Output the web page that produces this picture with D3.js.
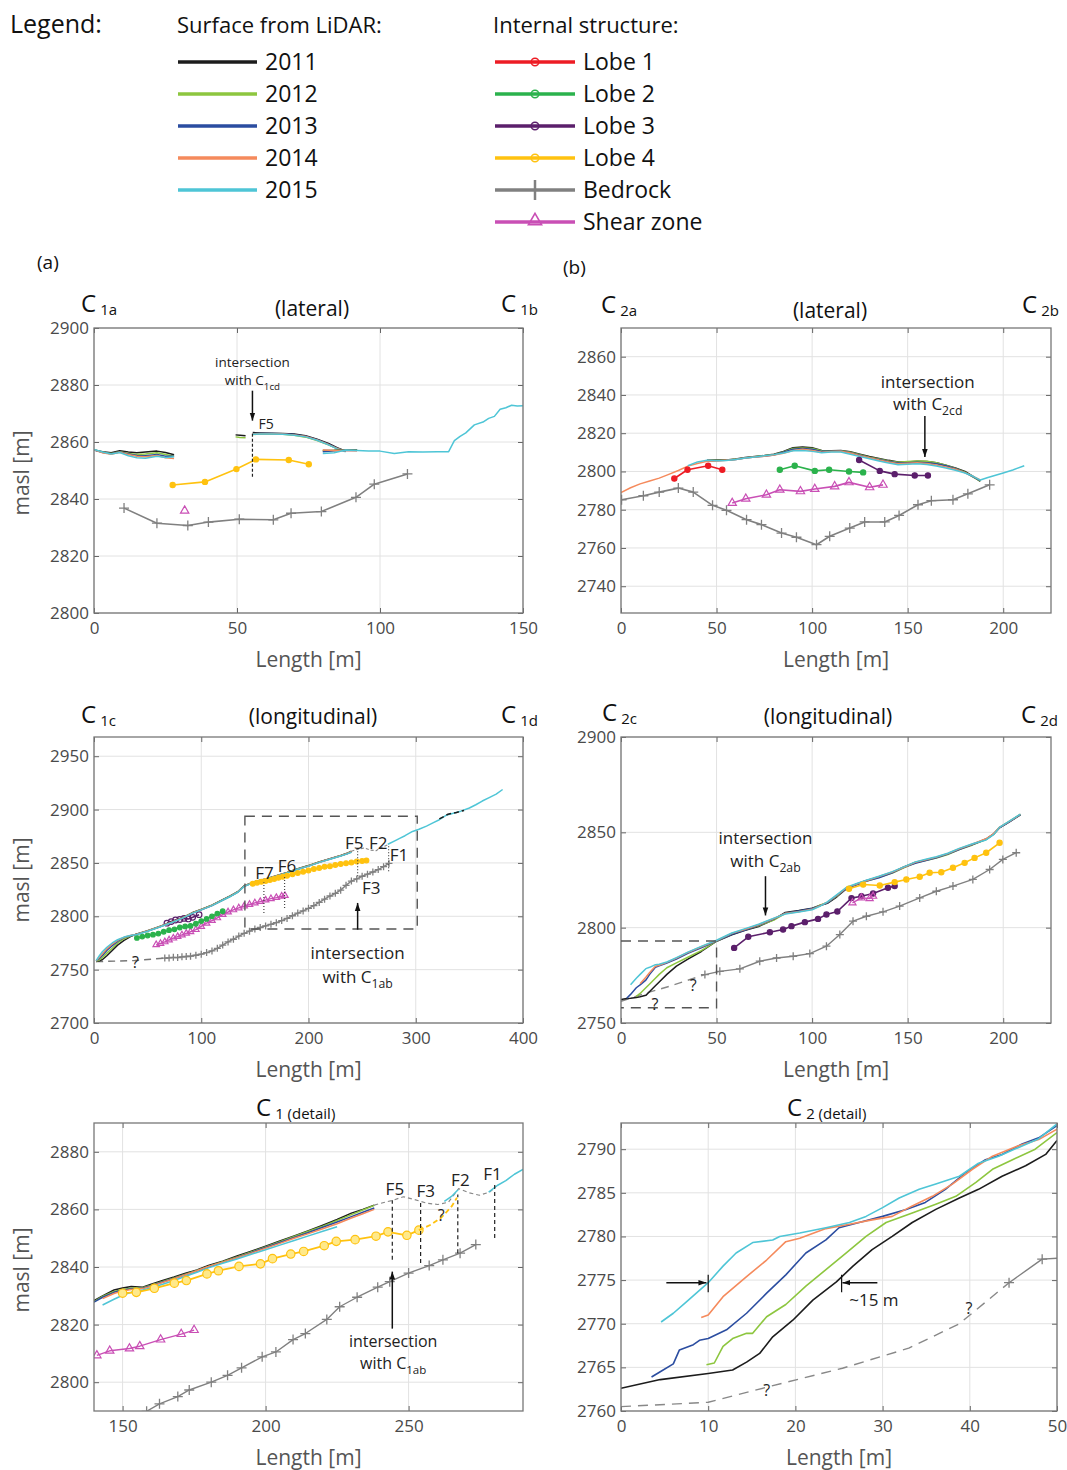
<!DOCTYPE html>
<html>
<head>
<meta charset="utf-8">
<script src="https://cdn.jsdelivr.net/npm/d3@7"></script>
<style>
body { margin: 0; background: #fff; }
text { font-family: 'Open Sans', sans-serif; }
</style>
</head>
<body>
<script>
var FONT = "'Open Sans', sans-serif";
var years = ['2011', '2012', '2013', '2014', '2015'];
var yearColors = ['#1c1c1c', '#8dc63f', '#2b4da0', '#f58a5c', '#4ec5d6'];
var structNames = ['Lobe 1', 'Lobe 2', 'Lobe 3', 'Lobe 4', 'Bedrock', 'Shear zone'];
var structColors = ['#ed1c24', '#2bb24c', '#5b1f6b', '#ffc20f', '#808080', '#c94fb5'];

// ---- (a) C1 lateral ----
var aSurf1X = [0, 3, 6, 9, 12, 15, 18, 22, 25, 28];
var aSurf1Y = [
    [2857.2, 2856.6, 2856.2, 2856.9, 2856.5, 2856.2, 2856.5, 2856.8, 2856.3, 2855.5],
    [2857.3, 2856.4, 2856.0, 2856.6, 2856.0, 2855.6, 2855.8, 2856.2, 2855.6, 2855.0],
    [2857.2, 2856.3, 2855.9, 2856.5, 2855.8, 2855.3, 2855.2, 2855.6, 2855.0, 2855.0],
    [2857.3, 2856.2, 2855.7, 2856.4, 2855.6, 2855.0, 2854.8, 2855.3, 2854.5, 2854.2],
    [2857.4, 2856.5, 2855.8, 2856.3, 2855.2, 2854.5, 2854.3, 2855.0, 2854.6, 2854.8]
];
var aSurf2X = [49.5, 51, 53];
var aSurf2Y = [[2862.5, 2862.4, 2862.2], [2861.8, 2861.6, 2861.5], [], [], []];
var aSurf3X = [55.5, 58, 62, 66, 70, 74, 78, 82, 85, 88];
var aSurf3Y = [
    [2863.3, 2863.2, 2863.1, 2863.0, 2862.8, 2862.2, 2861.0, 2859.5, 2858.0, 2856.8],
    [2862.6, 2862.8, 2862.8, 2862.7, 2862.4, 2861.7, 2860.5, 2859.0, 2857.7, 2856.8],
    [2862.9, 2863.0, 2863.0, 2862.9, 2862.6, 2862.0, 2860.8, 2859.2, 2857.8, 2856.8],
    [2862.8, 2862.9, 2862.9, 2862.8, 2862.5, 2861.9, 2860.7, 2859.1, 2857.7, 2856.7],
    [2862.7, 2862.8, 2862.8, 2862.7, 2862.4, 2861.8, 2860.6, 2859.0, 2857.6, 2856.6]
];
var aSurf4X = [80, 84, 88, 92, 96, 100, 105, 110, 115, 120, 124, 126, 128, 130, 133, 136, 138, 140, 142, 144, 146, 148, 150];
var aSurf4Y = [
    [2857.0, 2857.1, 2857.3, 2857.2],
    [2856.8, 2857.0, 2857.2, 2857.1],
    [2856.6, 2856.9, 2857.1, 2857.0],
    [2857.2, 2857.0, 2857.0, 2856.9],
    [2856.0, 2856.2, 2857.2, 2857.0, 2856.8, 2856.8, 2856.0, 2856.6, 2856.5, 2856.6, 2856.6, 2860.5, 2862.0, 2863.2, 2866.0, 2867.0, 2868.3, 2869.0, 2871.5, 2872.0, 2872.9, 2872.6, 2872.7]
];
var aLobe4 = [[27.5, 2844.9], [38.8, 2846.0], [49.8, 2850.5], [56.6, 2853.9], [68.1, 2853.7], [75.1, 2852.2]];
var aBedrock = [[10.5, 2836.8], [22, 2831.5], [32.8, 2830.7], [40, 2831.9], [50.8, 2832.9], [62.7, 2832.7], [68.9, 2835], [79.5, 2835.6], [91.6, 2840.6], [98, 2845.2], [109.6, 2848.8]];
var aShear = [[31.7, 2835.9]];

// ---- (b) C2 lateral ----
var bSurfX = [0, 5, 10, 15, 20, 25, 30, 35, 40, 45, 50, 55, 60, 65, 70, 75, 80, 85, 90, 95, 100, 105, 110, 115, 120, 125, 130, 135, 140, 145, 150, 155, 160, 165, 170, 175, 180, 184, 188, 192, 196, 200, 205, 211];
var bSurfY = [
    [null, null, null, null, null, null, null, null, null, 2805.8, 2806.0, 2806.0, 2806.5, 2807.3, 2807.8, 2808.3, 2809.0, 2810.5, 2812.4, 2812.8, 2812.4, 2811.0, 2810.8, 2811.0, 2810.3, 2809.0, 2807.8, 2806.8, 2805.8, 2805.0, 2805.0, 2805.3, 2805.2, 2804.5, 2803.2, 2801.8, 2800.0, 2797.5, 2794.8],
    [null, null, null, null, null, null, null, null, null, 2805.6, 2805.8, 2805.9, 2806.4, 2807.1, 2807.7, 2808.2, 2808.8, 2810.2, 2812.0, 2812.3, 2812.0, 2810.8, 2810.6, 2810.8, 2810.0, 2808.8, 2807.5, 2806.5, 2805.5, 2804.8, 2805.2, 2805.5, 2805.3, 2804.6, 2803.3, 2801.6, 2799.6, 2797.2, 2795.0],
    [null, null, null, null, null, null, null, null, null, 2805.5, 2805.7, 2805.8, 2806.3, 2807.0, 2807.6, 2808.0, 2808.6, 2810.0, 2811.6, 2812.0, 2811.6, 2810.5, 2810.5, 2810.7, 2809.8, 2808.5, 2807.2, 2806.2, 2805.2, 2804.4, 2804.5, 2804.8, 2804.6, 2804.0, 2803.0, 2801.4, 2799.4, 2797.3, 2795.2],
    [2789.0, 2791.5, 2793.5, 2795.0, 2796.5, 2798.5, 2800.5, 2802.8, 2804.2, 2805.3, 2805.5, 2805.8, 2806.2, 2807.0, 2807.5, 2808.0, 2808.6, 2809.5, 2811.0, 2811.6, 2811.0, 2810.0, 2810.4, 2810.6, 2809.6, 2808.2, 2807.2, 2806.0, 2805.0, 2804.0, 2804.3, 2804.6, 2804.2, 2803.4, 2802.4, 2801.2, 2799.4, 2797.6, 2795.6],
    [null, null, null, null, null, null, null, 2803.0, 2805.0, 2805.8, 2805.6, 2805.7, 2806.2, 2807.0, 2807.5, 2808.2, 2808.8, 2809.6, 2810.8, 2811.0, 2810.5, 2809.8, 2810.2, 2810.2, 2809.0, 2807.8, 2806.6, 2805.5, 2804.4, 2803.5, 2803.8, 2804.0, 2803.6, 2802.8, 2801.8, 2800.6, 2799.2, 2797.6, 2795.5, 2796.8, 2798.0, 2799.2, 2800.8, 2803.0]
];
var bLobe1 = [[27.9, 2796.3], [34.8, 2800.9], [45.6, 2803], [53, 2800.9]];
var bLobe2 = [[83.1, 2800.9], [90.9, 2803], [101.4, 2800.3], [108.9, 2800.9], [119.3, 2800], [126.7, 2799.5]];
var bLobe3 = [[124.6, 2806], [135.4, 2800.3], [143.2, 2798.6], [153.7, 2797.9], [160.6, 2797.9]];
var bShear = [[58.2, 2783.5], [65.3, 2785.7], [76.1, 2787.8], [83.1, 2790.4], [93.9, 2789.6], [101.4, 2790.8], [111.8, 2792.2], [119.3, 2794.3], [130.1, 2791.7], [137.1, 2793]];
var bBedrock = [[0.3, 2785.2], [11.7, 2787.3], [20, 2789.2], [30, 2791.3], [37.8, 2789.2], [47.9, 2782.3], [55.2, 2779.7], [65.7, 2774.8], [73.5, 2772.2], [84, 2767.8], [91.8, 2765.6], [102.3, 2761.7], [109.2, 2766.1], [119.7, 2770.4], [127.5, 2773.6], [138, 2773.6], [145.5, 2777], [155.4, 2782.6], [162.4, 2784.7], [173.7, 2785.2], [181.5, 2788.3], [192.9, 2793]];

// ---- (c) C1 longitudinal ----
var cSurfX = [2, 5, 8, 12, 17, 22, 28, 34, 40, 50, 60, 72, 82, 92, 100, 110, 120, 127, 134, 140, 146, 150, 160, 170, 180, 190, 200, 210, 220, 230, 236, 240];
var cSurfY = [
    [2757.5, 2758.2, 2759.5, 2763, 2768, 2773, 2777.5, 2781, 2783.5, 2786.5, 2790, 2794.5, 2798.5, 2803.5, 2806.5, 2810.5, 2815.5, 2819, 2823, 2828.5, 2831, 2832.5, 2835, 2838, 2841, 2844.5, 2847.5, 2851, 2854, 2857, 2859, 2861],
    [2757.8, 2759, 2761.5, 2765.5, 2770, 2775, 2779, 2781.5, 2783.3, 2786.3, 2789.8, 2794.3, 2798.3, 2803.3, 2806.3, 2810.3, 2815.3, 2818.8, 2822.8, 2828.3, 2830.8, 2832.3, 2834.8, 2837.8, 2840.8, 2844.3, 2847.3, 2850.8, 2853.8, 2856.8, 2858.8, 2860.6],
    [2758, 2760.5, 2763.5, 2768, 2772.5, 2776.5, 2780, 2781.8, 2783.1, 2786.1, 2789.6, 2794.1, 2798.1, 2803.1, 2806.1, 2810.1, 2815.1, 2818.6, 2822.6, 2828.1, 2830.6, 2832.1, 2834.6, 2837.6, 2840.6, 2844.1, 2847.1, 2850.6, 2853.6, 2856.6, 2858.6, 2860.3],
    [2758.2, 2761.5, 2765, 2769.5, 2774, 2777.5, 2780.3, 2782, 2783.2, 2786.2, 2789.7, 2794.2, 2798.2, 2803.2, 2806.2, 2810.2, 2815.2, 2818.7, 2822.7, 2828.2, 2830.7, 2832.2, 2834.7, 2837.7, 2840.7, 2844.2, 2847.2, 2850.7, 2853.7, 2856.7, 2858.7, 2860.5],
    [2758.5, 2763, 2767, 2771, 2775, 2778, 2780.5, 2782, 2783, 2786, 2789.5, 2794, 2798, 2803, 2806, 2810, 2815, 2818.5, 2822.5, 2828, 2830.5, 2832, 2834.5, 2837.5, 2840.5, 2844, 2847, 2850.5, 2853.5, 2856.5, 2858.5, 2860]
];
var cGapSurface = [[240, 2861], [246, 2862.8], [252, 2864], [258, 2862], [263, 2861.5], [268, 2864.5], [274, 2867]];
var cCyanTail = [[274, 2867.5], [280, 2870.5], [285, 2873], [290, 2875.5], [297, 2879.5], [303, 2881.5], [310, 2884.5], [316, 2887.5], [322, 2890.5], [329, 2895], [335, 2896.5], [342, 2898.5], [350, 2901.5], [356, 2904.5], [362, 2908], [368, 2911], [375, 2914.5], [381, 2918.8]];
var cBlackTail = [[322, 2891.2], [330, 2895.6], [338, 2897.3], [345, 2899.2]];
var cBedrockGuess = [[2, 2757.5], [20, 2758], [38, 2758.5], [50, 2759.5], [66, 2760.8]];
var cBedrock = [[66, 2760.8], [70, 2761], [74, 2761.5], [78, 2761.3], [82, 2762], [86, 2762.3], [90, 2762.6], [95, 2763.5], [100, 2764.5], [105, 2766], [110, 2767.5], [115, 2770], [120, 2773], [125, 2776], [130, 2778.5], [135, 2781.5], [140, 2784], [145, 2786], [150, 2788], [155, 2789.5], [160, 2791], [165, 2792.5], [170, 2794], [175, 2796], [180, 2798], [185, 2800.5], [190, 2803], [195, 2805], [200, 2807.5], [205, 2810], [210, 2813], [215, 2816], [220, 2819], [225, 2821.5], [230, 2824.5], [235, 2829], [240, 2833], [245, 2835], [250, 2837.5], [255, 2839.5], [260, 2841.5], [265, 2843.8], [270, 2846.5], [275, 2849.5]];
var cLobe2 = [[40, 2779.7], [45, 2781], [50, 2782], [55, 2782.8], [60, 2783.8], [65, 2785.5], [70, 2787], [75, 2787.8], [80, 2789.5], [85, 2790.5], [90, 2791], [95, 2793], [100, 2795.5], [105, 2797.5], [110, 2800], [115, 2802.5], [120, 2804.7]];
var cLobe3 = [[68, 2793.5], [72, 2795], [76, 2796.5], [80, 2797], [84, 2798], [88, 2797.5], [92, 2799], [98, 2801.5]];
var cLobe4 = [[148, 2830.5], [152, 2831.5], [156, 2832.3], [160, 2833], [164, 2834], [168, 2835], [172, 2836], [176, 2837], [180, 2838], [185, 2839.3], [190, 2840.5], [195, 2841.8], [200, 2843], [205, 2844.3], [210, 2845.3], [215, 2846.3], [220, 2847], [225, 2848], [230, 2849], [235, 2849.8], [240, 2850.5], [245, 2851.3], [250, 2851.8], [254, 2852.3]];
var cShear = [[58, 2773.4], [62, 2774.5], [66, 2776], [70, 2777.8], [74, 2779.5], [78, 2781], [82, 2782.5], [86, 2784], [90, 2785.5], [95, 2787.5], [100, 2790.5], [105, 2793.5], [110, 2796], [115, 2798.5], [120, 2801.6], [125, 2804], [130, 2806], [135, 2807.8], [140, 2809.5], [145, 2811], [150, 2812.5], [155, 2813.8], [160, 2815.2], [165, 2816.5], [170, 2817.5], [175, 2818.8], [178, 2819.4]];

// ---- (d) C2 longitudinal ----
var dSurfX = [0, 3, 5, 8, 10, 13, 15, 18, 20, 24, 29, 35, 42, 50, 58, 65, 72, 80, 86, 93, 100, 104, 108, 113, 118, 123, 128, 135, 142, 148, 154, 160, 165, 171, 177, 184, 191, 195, 198, 203, 209];
var dSurfY = [
    [2762.3, 2762.8, 2763, 2763.4, 2763.8, 2764.5, 2766.5, 2769.5, 2771.5, 2775.5, 2779.8, 2783.5, 2787.5, 2792.9, 2796.2, 2798.6, 2800.6, 2804.3, 2808, 2809, 2810.2, 2811.6, 2812.8, 2816.2, 2820.5, 2822.8, 2824.6, 2826.6, 2829, 2831.8, 2834.2, 2835.6, 2836.8, 2838.7, 2841.2, 2843.7, 2846.5, 2849.2, 2852.3, 2855.3, 2859.2],
    [null, null, null, 2764, 2765.5, 2768.5, 2770.5, 2773.5, 2775.5, 2779, 2781.5, 2784.5, 2788, 2792.9, 2796.8, 2799, 2801, 2804, 2807.5, 2808.5, 2809.8, 2811.8, 2813.2, 2816.5, 2820.8, 2822.5, 2824.2, 2826.4, 2828.6, 2831.4, 2834, 2835.3, 2836.5, 2838.4, 2841, 2843.4, 2846.2, 2849, 2852.5, 2855.6, 2859.4],
    [null, 2763, 2765, 2768.5, 2770, 2772.5, 2775.5, 2779.2, 2780, 2781.5, 2783.5, 2786.5, 2789.5, 2793, 2796.5, 2798.8, 2801.2, 2804.5, 2807.6, 2808.8, 2810, 2811.5, 2813, 2816.8, 2820.6, 2822.4, 2824.3, 2826.2, 2828.8, 2831.6, 2833.8, 2835.4, 2836.6, 2838.6, 2841, 2843.6, 2846.3, 2849.1, 2852.4, 2855.4, 2859.3],
    [null, null, null, null, 2770.6, 2774, 2776.5, 2779.8, 2780.3, 2781.8, 2784, 2787, 2790, 2793.2, 2797, 2799.2, 2801.5, 2804.8, 2807.4, 2808.4, 2809.6, 2811.4, 2813.4, 2817, 2821, 2822.7, 2824.5, 2826.8, 2829.2, 2831.7, 2834.3, 2835.8, 2837, 2838.9, 2841.4, 2843.9, 2846.6, 2849.3, 2852.6, 2855.6, 2859.5],
    [null, null, 2770.1, 2773.5, 2775.5, 2778.5, 2779.2, 2780.6, 2780.8, 2782, 2784.3, 2787.2, 2790.2, 2793.4, 2797.2, 2799.5, 2801.8, 2805, 2807.2, 2808.2, 2809.4, 2811.2, 2813.5, 2817.3, 2821.2, 2823, 2824.8, 2827, 2829.4, 2831.9, 2834.5, 2836, 2837.2, 2839, 2841.6, 2844, 2846, 2848.8, 2852.6, 2855.8, 2859.6]
];
var dLobe3 = [[59.2, 2789.4], [66.6, 2795.2], [77.9, 2797.6], [84.8, 2799], [89.2, 2800.8], [96.2, 2802.9], [103.1, 2804.6], [107.5, 2806.9], [113.2, 2808.5], [120.6, 2815.5], [125.8, 2816.5], [131.9, 2817.9], [139.7, 2820.9], [143.2, 2821.8]];
var dLobe4 = [[119.3, 2820.4], [126.7, 2822.6], [135.4, 2822.1], [143.2, 2823.9], [149.3, 2825.3], [156.3, 2826.7], [161.5, 2828.8], [167.6, 2829.1], [173.7, 2831.4], [179.8, 2834], [185, 2836.6], [191.1, 2839.3], [198.1, 2844.5]];
var dShear = [[121.1, 2813], [125.8, 2815.6], [130.1, 2815.3], [131.9, 2816.5]];
var dBedrockGuess = [[0, 2761.4], [13.4, 2765.8], [25.6, 2769.3], [43.9, 2775.4]];
var dBedrock = [[43.9, 2775.4], [51.7, 2777.1], [62.2, 2778.4], [72.6, 2782.4], [81.4, 2784.1], [90.1, 2785], [98.8, 2786.4], [107.5, 2790.3], [114.5, 2796.4], [121.4, 2803.4], [128.4, 2806], [137.1, 2808.3], [145.8, 2811.3], [156.3, 2815.6], [165, 2819.1], [173.7, 2821.8], [184.1, 2825.3], [192.9, 2830.5], [199.8, 2835.8], [206.8, 2839.3]];

// ---- (e) C1 detail ----
var eSurfX = [140, 143, 147, 150, 153, 157, 160, 164, 168, 172, 176, 180, 185, 190, 195, 200, 205, 210, 215, 220, 225, 230, 234, 238];
var eSurfY = [
    [2828.3, 2830.0, 2832.0, 2832.7, 2833.2, 2833.0, 2834.0, 2835.3, 2836.5, 2837.8, 2839.0, 2840.5, 2842.0, 2843.8, 2845.5, 2847.2, 2849.0, 2850.8, 2852.6, 2854.5, 2856.5, 2858.7, 2860.0, 2861.5],
    [2828.0, 2829.8, 2831.5, 2832.2, 2832.6, 2832.8, 2833.7, 2835.0, 2836.2, 2837.5, 2838.8, 2840.2, 2841.8, 2843.5, 2845.2, 2847.0, 2848.8, 2850.6, 2852.4, 2854.2, 2856.2, 2858.2, 2859.8, 2861.4],
    [2827.8, 2829.5, 2831.2, 2832.0, 2832.4, 2832.6, 2833.5, 2834.8, 2836.0, 2837.3, 2838.6, 2840.0, 2841.6, 2843.3, 2845.0, 2846.8, 2848.5, 2850.3, 2852.0, 2853.8, 2855.6, 2857.5, 2859.0, 2860.5],
    [null, 2829.0, 2830.8, 2831.7, 2832.2, 2832.5, 2833.3, 2834.6, 2835.9, 2837.3, 2838.7, 2840.2, 2841.7, 2843.2, 2844.8, 2846.5, 2848.2, 2850.0, 2851.6, 2853.3, 2855.0, 2857.0, 2858.5, 2860.0],
    [null, 2826.8, 2828.8, 2830.2, 2831.2, 2832.0, 2832.8, 2834.0, 2835.3, 2836.8, 2838.2, 2839.7, 2841.3, 2842.8, 2844.4, 2846.0, 2847.6, 2849.2, 2850.8, 2852.4, 2854.0]
];
var eGapSurface = [[238, 2861.5], [241, 2862.3], [244.6, 2863.2], [248.2, 2864.4], [251.8, 2863.5], [256.6, 2862.1], [260.2, 2861.7], [263.9, 2862.5], [267.5, 2867.2], [271.1, 2865.8], [274.7, 2864.9], [278.3, 2866], [280.7, 2868.1]];
var eCyanBit = [[262.5, 2862.8], [265, 2864.5], [267.3, 2866.8]];
var eCyanTail = [[278, 2866], [281, 2868.3], [284, 2870], [287, 2872.2], [291, 2874.5]];
var eLobe4 = [[150, 2830.9], [154.8, 2831.2], [161.1, 2832.6], [168.1, 2834.4], [172.3, 2835.3], [179.5, 2837.6], [183.5, 2838.7], [190.7, 2840.2], [198.2, 2841.1], [202.4, 2842.9], [208.8, 2844.5], [213.3, 2845.4], [220.5, 2847.4], [224.7, 2848.9], [231.3, 2849.5], [238.6, 2850.7], [242.8, 2852.2], [249.4, 2851], [253.6, 2852.8]];
var eLobe4Guess = [[253.6, 2852.8], [257.8, 2854.7], [261.4, 2857.1], [265.1, 2861.1], [266.9, 2864.1]];
var eShear = [[141, 2809.3], [145.5, 2810.9], [152.4, 2811.7], [156, 2812.5], [163.3, 2814.8], [170.5, 2816.7], [175, 2818.1]];
var eBedrock = [[158.4, 2789.9], [162.9, 2792.5], [169.3, 2795], [173.3, 2797.3], [181, 2800], [186.7, 2802.4], [191.6, 2805], [198.8, 2808.8], [203.6, 2810.5], [209.6, 2814.8], [213.9, 2816.9], [221.4, 2821.8], [225.9, 2826.2], [232, 2829.5], [239.2, 2833], [243.4, 2834.9], [250, 2837.9], [257.2, 2840.5], [262, 2842.5], [268, 2844.8], [273.5, 2847.8]];
var eFaults = [['F5', 244.3, 2842.5, 2863.2, 245.2, 2867], ['F3', 254.2, 2841.4, 2862.3, 256, 2866.4], ['F2', 267.2, 2844.8, 2865.2, 268.1, 2870.2], ['F1', 280.1, 2850.1, 2869.1, 279.3, 2872.4]];

// ---- (f) C2 detail ----
var fSurf = [
    [[0, 2762.6], [4.5, 2763.6], [10, 2764.3], [12.8, 2764.7], [14.4, 2765.6], [15.9, 2766.6], [17.4, 2768.5], [19.7, 2770.4], [22, 2772.7], [24.7, 2774.8], [26.6, 2776.6], [28.8, 2778.5], [31.1, 2780], [33.4, 2781.6], [36.1, 2783.1], [38.8, 2784.4], [41, 2785.4], [43.7, 2786.9], [46.4, 2788.1], [48.7, 2789.4], [50, 2791]],
    [[9.8, 2765.3], [10.7, 2765.5], [11.7, 2767.4], [12.8, 2768.3], [14.4, 2768.9], [15.1, 2768.9], [16.7, 2770.8], [18.9, 2772.2], [21.2, 2774.3], [23.5, 2776.2], [25.8, 2778.1], [28.1, 2780], [30.4, 2781.6], [33.4, 2782.7], [36.1, 2783.7], [38.4, 2784.6], [40.7, 2786.2], [42.6, 2787.7], [44.9, 2788.8], [47.5, 2790], [50, 2791.9]],
    [[3.5, 2763.9], [4.5, 2764.5], [6, 2765.4], [6.7, 2767], [8.3, 2767.6], [9, 2768.1], [10, 2768.3], [12.1, 2769.3], [14.4, 2771.2], [16.7, 2773.5], [18.9, 2775.6], [21.2, 2778.1], [23.5, 2779.6], [25, 2781], [27.3, 2781.6], [30, 2782.3], [32.7, 2783.1], [34.9, 2783.9], [37.2, 2785.4], [39.5, 2787.3], [41.8, 2788.8], [43.7, 2789.4], [46, 2790.6], [47.9, 2791.3], [50, 2792.7]],
    [[9.2, 2770.7], [10, 2771], [11.7, 2773.1], [14.4, 2775.4], [16.7, 2777.3], [18.9, 2779.4], [20.5, 2779.8], [23.5, 2780.9], [26.2, 2781.4], [28.8, 2781.9], [31.1, 2782.3], [33.4, 2783.5], [35.7, 2784.6], [38, 2786], [40.3, 2787.7], [42.6, 2789.2], [45.6, 2790.4], [47.9, 2791.1], [50, 2792.3]],
    [[4.6, 2770.2], [6, 2771.2], [7.5, 2772.5], [10, 2774.7], [11.7, 2776.6], [13.2, 2778.1], [15.1, 2779.3], [17.4, 2779.6], [18.2, 2780], [20.5, 2780.4], [23.5, 2781], [26.2, 2781.6], [28.1, 2782.3], [30, 2783.3], [31.9, 2784.4], [34.2, 2785.4], [36.1, 2786], [38.8, 2786.9], [41, 2788.4], [43.3, 2789.2], [45.6, 2790.2], [47.9, 2791.2], [50, 2792.9]]
];
var fBedrockGuess = [[0, 2760.5], [10, 2761], [17, 2762.8], [25.4, 2764.9], [33, 2767.2], [38.8, 2770], [44.5, 2774.7]];
var fBedrock = [[44.5, 2774.7], [48.3, 2777.4], [51.5, 2777.6]];

var svg = d3.select('body').append('svg')
    .attr('width', 1067)
    .attr('height', 1470)
    .style('background', '#fff');

var defs = svg.append('defs');
defs.append('marker')
    .attr('id', 'arr')
    .attr('viewBox', '0 0 10 10')
    .attr('refX', 10).attr('refY', 5)
    .attr('markerWidth', 8).attr('markerHeight', 9)
    .attr('markerUnits', 'userSpaceOnUse')
    .attr('orient', 'auto')
    .append('path').attr('d', 'M0,1.5L10,5L0,8.5z').attr('fill', '#111');

function styleAxis(sel) {
    sel.select('.domain').remove();
    sel.selectAll('.tick line').attr('stroke', '#666');
    sel.selectAll('.tick text').attr('fill', '#4a4a4a').attr('font-size', 17).attr('font-family', FONT);
}

function panel(p) {
    var x = d3.scaleLinear().domain(p.xd).range([p.l, p.r]);
    var y = d3.scaleLinear().domain(p.yd).range([p.b, p.t]);
    var g = svg.append('g');
    g.selectAll('line.gx').data(p.xt).join('line').attr('class', 'gx')
        .attr('x1', function (d) { return x(d); }).attr('x2', function (d) { return x(d); })
        .attr('y1', p.t).attr('y2', p.b).attr('stroke', '#e2e2e2');
    g.selectAll('line.gy').data(p.yt).join('line').attr('class', 'gy')
        .attr('y1', function (d) { return y(d); }).attr('y2', function (d) { return y(d); })
        .attr('x1', p.l).attr('x2', p.r).attr('stroke', '#e2e2e2');

    g.append('g').attr('transform', 'translate(0,' + p.b + ')')
        .call(d3.axisBottom(x).tickValues(p.xt).tickSize(-5).tickPadding(9).tickFormat(d3.format('d'))).call(styleAxis);
    g.append('g').attr('transform', 'translate(0,' + p.t + ')')
        .call(d3.axisTop(x).tickValues(p.xt).tickSize(-5).tickFormat('')).call(styleAxis);
    g.append('g').attr('transform', 'translate(' + p.l + ',0)')
        .call(d3.axisLeft(y).tickValues(p.yt).tickSize(-5).tickPadding(5).tickFormat(d3.format('d'))).call(styleAxis);
    g.append('g').attr('transform', 'translate(' + p.r + ',0)')
        .call(d3.axisRight(y).tickValues(p.yt).tickSize(-5).tickFormat('')).call(styleAxis);

    defs.append('clipPath').attr('id', 'clip' + p.id).append('rect')
        .attr('x', p.l).attr('y', p.t).attr('width', p.r - p.l).attr('height', p.b - p.t);
    var plot = g.append('g').attr('clip-path', 'url(#clip' + p.id + ')');

    g.append('rect').attr('x', p.l).attr('y', p.t).attr('width', p.r - p.l).attr('height', p.b - p.t)
        .attr('fill', 'none').attr('stroke', '#777').attr('stroke-width', 1.3);

    g.append('text').attr('x', (p.l + p.r) / 2).attr('y', p.b + 54)
        .attr('text-anchor', 'middle').attr('font-size', 21).attr('fill', '#555').text('Length [m]');
    if (p.ylab) {
        g.append('text').attr('transform', 'translate(29,' + p.ylab + ') rotate(-90)')
            .attr('text-anchor', 'middle').attr('font-size', 21).attr('fill', '#555').text('masl [m]');
    }
    return { x: x, y: y, g: g, plot: plot };
}

function series(P, pts, color, width, dash) {
    P.plot.append('path').datum(pts)
        .attr('d', d3.line().defined(function (d) { return d[1] != null; })
            .x(function (d) { return P.x(d[0]); }).y(function (d) { return P.y(d[1]); }))
        .attr('fill', 'none').attr('stroke', color).attr('stroke-width', width || 1.5)
        .attr('stroke-dasharray', dash || null).attr('stroke-linejoin', 'round');
}

function surface(P, xs, ys) {
    ys.forEach(function (row, i) {
        var pts = xs.map(function (v, j) { return [v, row[j] == null ? null : row[j]]; });
        series(P, pts, yearColors[i], 1.5);
    });
}

function markers(P, pts, type, color, size, fill) {
    var sel = P.plot.selectAll(null).data(pts);
    if (type === 'circle') {
        sel.join('circle').attr('cx', function (d) { return P.x(d[0]); }).attr('cy', function (d) { return P.y(d[1]); })
            .attr('r', size).attr('fill', fill || color).attr('stroke', color).attr('stroke-width', 1.2);
    } else if (type === 'tri') {
        sel.join('path').attr('d', d3.symbol(d3.symbolTriangle, size))
            .attr('transform', function (d) { return 'translate(' + P.x(d[0]) + ',' + P.y(d[1]) + ')'; })
            .attr('fill', 'none').attr('stroke', color).attr('stroke-width', 1.2);
    } else {
        sel.join('path').attr('d', 'M' + (-size) + ',0H' + size + 'M0,' + (-size) + 'V' + size)
            .attr('transform', function (d) { return 'translate(' + P.x(d[0]) + ',' + P.y(d[1]) + ')'; })
            .attr('stroke', color).attr('stroke-width', 1.3);
    }
}

function struct(P, pts, k, type, size, fill, width) {
    series(P, pts, structColors[k], width || 1.6);
    markers(P, pts, type, structColors[k], size, fill);
}

function note(P, xv, yv, txt, size, anchor) {
    return P.g.append('text').attr('x', P.x(xv)).attr('y', P.y(yv)).attr('dy', '0.35em')
        .attr('text-anchor', anchor || 'middle').attr('font-size', size).attr('fill', '#222').text(txt);
}

function subNote(P, xv, yv, main, sub, size) {
    var t = P.g.append('text').attr('x', P.x(xv)).attr('y', P.y(yv)).attr('dy', '0.35em')
        .attr('text-anchor', 'middle').attr('font-size', size).attr('fill', '#222');
    t.append('tspan').text(main);
    t.append('tspan').attr('font-size', size * 0.72).attr('dy', size * 0.3).text(sub);
}

function arrow(P, x0, y0, x1, y1) {
    P.g.append('line').attr('x1', P.x(x0)).attr('y1', P.y(y0)).attr('x2', P.x(x1)).attr('y2', P.y(y1))
        .attr('stroke', '#111').attr('stroke-width', 1.5).attr('marker-end', 'url(#arr)');
}

function vline(P, xv, y0, y1, dash, color) {
    P.g.append('line').attr('x1', P.x(xv)).attr('x2', P.x(xv)).attr('y1', P.y(y0)).attr('y2', P.y(y1))
        .attr('stroke', color || '#222').attr('stroke-width', 1.2).attr('stroke-dasharray', dash);
}

function title(xp, yp, main, sub, size, subSize) {
    var t = svg.append('text').attr('x', xp).attr('y', yp).attr('font-size', size).attr('fill', '#111');
    t.append('tspan').text(main);
    t.append('tspan').attr('font-size', subSize).attr('dx', 4).attr('dy', 3).text(sub);
}

function centered(xp, yp, txt, size) {
    svg.append('text').attr('x', xp).attr('y', yp).attr('text-anchor', 'middle')
        .attr('font-size', size).attr('fill', '#111').text(txt);
}

// ---- Legend ----
svg.append('text').attr('x', 10).attr('y', 33).attr('font-size', 25).attr('fill', '#111').text('Legend:');
svg.append('text').attr('x', 177).attr('y', 33).attr('font-size', 22).attr('fill', '#111').text('Surface from LiDAR:');
svg.append('text').attr('x', 493).attr('y', 33).attr('font-size', 22).attr('fill', '#111').text('Internal structure:');

years.forEach(function (yr, i) {
    var yy = 62 + i * 32;
    svg.append('line').attr('x1', 178).attr('x2', 257).attr('y1', yy).attr('y2', yy)
        .attr('stroke', yearColors[i]).attr('stroke-width', 3.5);
    svg.append('text').attr('x', 265).attr('y', yy).attr('dy', '0.36em').attr('font-size', 23).attr('fill', '#111').text(yr);
});
structNames.forEach(function (nm, i) {
    var yy = 62 + i * 32;
    var c = structColors[i];
    svg.append('line').attr('x1', 495).attr('x2', 575).attr('y1', yy).attr('y2', yy)
        .attr('stroke', c).attr('stroke-width', 3.5);
    if (i < 4) {
        svg.append('circle').attr('cx', 535).attr('cy', yy).attr('r', 3.8).attr('fill', 'none').attr('stroke', c).attr('stroke-width', 1.5);
    } else if (i === 4) {
        svg.append('line').attr('x1', 535).attr('x2', 535).attr('y1', yy - 10).attr('y2', yy + 10).attr('stroke', c).attr('stroke-width', 2.5);
    } else {
        svg.append('path').attr('d', d3.symbol(d3.symbolTriangle, 75)).attr('transform', 'translate(535,' + (yy - 1) + ')')
            .attr('fill', 'none').attr('stroke', c).attr('stroke-width', 1.6);
    }
    svg.append('text').attr('x', 583).attr('y', yy).attr('dy', '0.36em').attr('font-size', 23).attr('fill', '#111').text(nm);
});

svg.append('text').attr('x', 37).attr('y', 269).attr('font-size', 19).attr('fill', '#111').text('(a)');
svg.append('text').attr('x', 563).attr('y', 274).attr('font-size', 19).attr('fill', '#111').text('(b)');

// ---- Panel (a) ----
var PA = panel({ id: 'a', l: 94, r: 523, t: 328, b: 613, xd: [0, 150], yd: [2800, 2900],
    xt: [0, 50, 100, 150], yt: [2800, 2820, 2840, 2860, 2880, 2900], ylab: 473 });
surface(PA, aSurf1X, aSurf1Y);
surface(PA, aSurf2X, aSurf2Y);
surface(PA, aSurf3X, aSurf3Y);
surface(PA, aSurf4X, aSurf4Y);
struct(PA, aLobe4, 3, 'circle', 2.6);
struct(PA, aBedrock, 4, 'plus', 5);
markers(PA, aShear, 'tri', structColors[5], 30);
vline(PA, 55.4, 2847.8, 2863.2, '3,2');
note(PA, 55.4, 2888, 'intersection', 13.5);
subNote(PA, 55.4, 2881.5, 'with C', '1cd', 13.5);
arrow(PA, 55.4, 2878, 55.4, 2867.5);
note(PA, 57.5, 2866.2, 'F5', 14, 'start');
title(81, 312, 'C', '1a', 24, 15);
centered(312, 316, '(lateral)', 21);
title(501, 312, 'C', '1b', 24, 15);

// ---- Panel (b) ----
var PB = panel({ id: 'b', l: 621, r: 1051, t: 328, b: 613, xd: [0, 225], yd: [2726, 2875],
    xt: [0, 50, 100, 150, 200], yt: [2740, 2760, 2780, 2800, 2820, 2840, 2860] });
surface(PB, bSurfX, bSurfY);
struct(PB, bLobe1, 0, 'circle', 2.6);
struct(PB, bLobe2, 1, 'circle', 2.6);
struct(PB, bLobe3, 2, 'circle', 2.6);
struct(PB, bShear, 5, 'tri', 30);
struct(PB, bBedrock, 4, 'plus', 5);
note(PB, 160.5, 2847, 'intersection', 17);
subNote(PB, 160.5, 2835.5, 'with C', '2cd', 17);
arrow(PB, 159, 2829, 159, 2807.5);
title(601, 313, 'C', '2a', 24, 15);
centered(830, 318, '(lateral)', 21);
title(1022, 313, 'C', '2b', 24, 15);

// ---- Panel (c) ----
var PC = panel({ id: 'c', l: 94, r: 523, t: 737, b: 1023, xd: [0, 400], yd: [2700, 2968],
    xt: [0, 100, 200, 300, 400], yt: [2700, 2750, 2800, 2850, 2900, 2950], ylab: 880 });
series(PC, cBedrockGuess, '#777', 1.4, '7,5');
struct(PC, cBedrock, 4, 'plus', 3.5, null, 1.4);
struct(PC, cShear, 5, 'tri', 18, null, 1.4);
struct(PC, cLobe2, 1, 'circle', 2.3);
struct(PC, cLobe3, 2, 'circle', 2.8, 'none');
surface(PC, cSurfX, cSurfY);
series(PC, cGapSurface, '#888', 1.1, '3,2');
series(PC, cCyanTail, yearColors[4], 1.5);
series(PC, cBlackTail, yearColors[0], 1.5, '5,3');
struct(PC, cLobe4, 3, 'circle', 2.4);
vline(PC, 158.4, 2803.1, 2831.9, '1,2', '#444');
vline(PC, 177.7, 2807.8, 2837.5, '1,2', '#444');
vline(PC, 245.8, 2837.5, 2863.1, '1,2', '#444');
vline(PC, 274.7, 2842.2, 2865.6, '1,2', '#444');
PC.g.append('rect').attr('x', PC.x(140.7)).attr('y', PC.y(2893.8))
    .attr('width', PC.x(301.4) - PC.x(140.7)).attr('height', PC.y(2788.1) - PC.y(2893.8))
    .attr('fill', 'none').attr('stroke', '#555').attr('stroke-width', 1.4).attr('stroke-dasharray', '10,7');
note(PC, 159, 2840.6, 'F7', 17);
note(PC, 180, 2846.9, 'F6', 17);
note(PC, 242.6, 2868.8, 'F5', 17);
note(PC, 265, 2868.8, 'F2', 17);
note(PC, 284.3, 2857.8, 'F1', 17);
note(PC, 258.6, 2826.6, 'F3', 17);
note(PC, 38.6, 2756.8, '?', 16);
arrow(PC, 245.8, 2787.5, 245.8, 2812.5);
note(PC, 245.8, 2765.6, 'intersection', 17);
subNote(PC, 245.8, 2742.8, 'with C', '1ab', 17);
title(81, 723, 'C', '1c', 24, 15);
centered(313, 724, '(longitudinal)', 21);
title(501, 723, 'C', '1d', 24, 15);

// ---- Panel (d) ----
var PD = panel({ id: 'd', l: 621, r: 1051, t: 737, b: 1023, xd: [0, 225], yd: [2750, 2900],
    xt: [0, 50, 100, 150, 200], yt: [2750, 2800, 2850, 2900] });
series(PD, dBedrockGuess, '#888', 1.4, '8,6');
struct(PD, dBedrock, 4, 'plus', 4, null, 1.4);
surface(PD, dSurfX, dSurfY);
struct(PD, dLobe3, 2, 'circle', 2.6);
struct(PD, dLobe4, 3, 'circle', 2.6);
struct(PD, dShear, 5, 'tri', 22, null, 1.3);
PD.g.append('path')
    .attr('d', 'M' + PD.x(0) + ',' + PD.y(2793) + 'H' + PD.x(50) + 'V' + PD.y(2758) + 'H' + PD.x(0))
    .attr('fill', 'none').attr('stroke', '#555').attr('stroke-width', 1.4).attr('stroke-dasharray', '10,7');
note(PD, 37.8, 2769.5, '?', 16);
note(PD, 17.8, 2759.6, '?', 16);
note(PD, 75.6, 2847.1, 'intersection', 17);
subNote(PD, 75.6, 2834.9, 'with C', '2ab', 17);
arrow(PD, 75.6, 2827, 75.6, 2806.4);
title(602, 721, 'C', '2c', 24, 15);
centered(828, 724, '(longitudinal)', 21);
title(1021, 723, 'C', '2d', 24, 15);

// ---- Panel (e) ----
var PE = panel({ id: 'e', l: 94, r: 523, t: 1123, b: 1411, xd: [140, 290], yd: [2790, 2890],
    xt: [150, 200, 250], yt: [2800, 2820, 2840, 2860, 2880], ylab: 1270 });
surface(PE, eSurfX, eSurfY);
series(PE, eGapSurface, '#888', 1.2, '4,3');
series(PE, eCyanBit, yearColors[4], 1.5);
series(PE, eCyanTail, yearColors[4], 1.5);
struct(PE, eShear, 5, 'tri', 30, null, 1.4);
struct(PE, eBedrock, 4, 'plus', 5, null, 1.4);
struct(PE, eLobe4, 3, 'circle', 4.2, '#ffe98a', 1.8);
series(PE, eLobe4Guess, structColors[3], 1.8, '5,3');
eFaults.forEach(function (f) {
    vline(PE, f[1], f[2], f[3], '4,3', '#222');
    note(PE, f[4], f[5], f[0], 17);
});
note(PE, 261.4, 2858, '?', 16);
arrow(PE, 244.3, 2818.6, 244.3, 2838.4);
note(PE, 244.6, 2814.3, 'intersection', 16);
subNote(PE, 244.6, 2806.6, 'with C', '1ab', 16);
title(256, 1116, 'C', '1 (detail)', 24, 15);

// ---- Panel (f) ----
var PF = panel({ id: 'f', l: 621, r: 1057, t: 1123, b: 1411, xd: [0, 50], yd: [2760, 2793],
    xt: [0, 10, 20, 30, 40, 50], yt: [2760, 2765, 2770, 2775, 2780, 2785, 2790] });
series(PF, fBedrockGuess, '#888', 1.4, '10,7');
struct(PF, fBedrock, 4, 'plus', 5, null, 1.4);
fSurf.forEach(function (pts, i) { series(PF, pts, yearColors[i], 1.6); });
arrow(PF, 5.2, 2774.7, 9.8, 2774.7);
vline(PF, 10, 2773.6, 2775.6, null, '#111');
arrow(PF, 29.4, 2774.7, 25.4, 2774.7);
vline(PF, 25.3, 2773.6, 2775.6, null, '#111');
note(PF, 29, 2772.7, '~15 m', 17);
note(PF, 16.7, 2762.4, '?', 16);
note(PF, 39.9, 2771.8, '?', 16);
title(787, 1116, 'C', '2 (detail)', 24, 15);
</script>
</body>
</html>
